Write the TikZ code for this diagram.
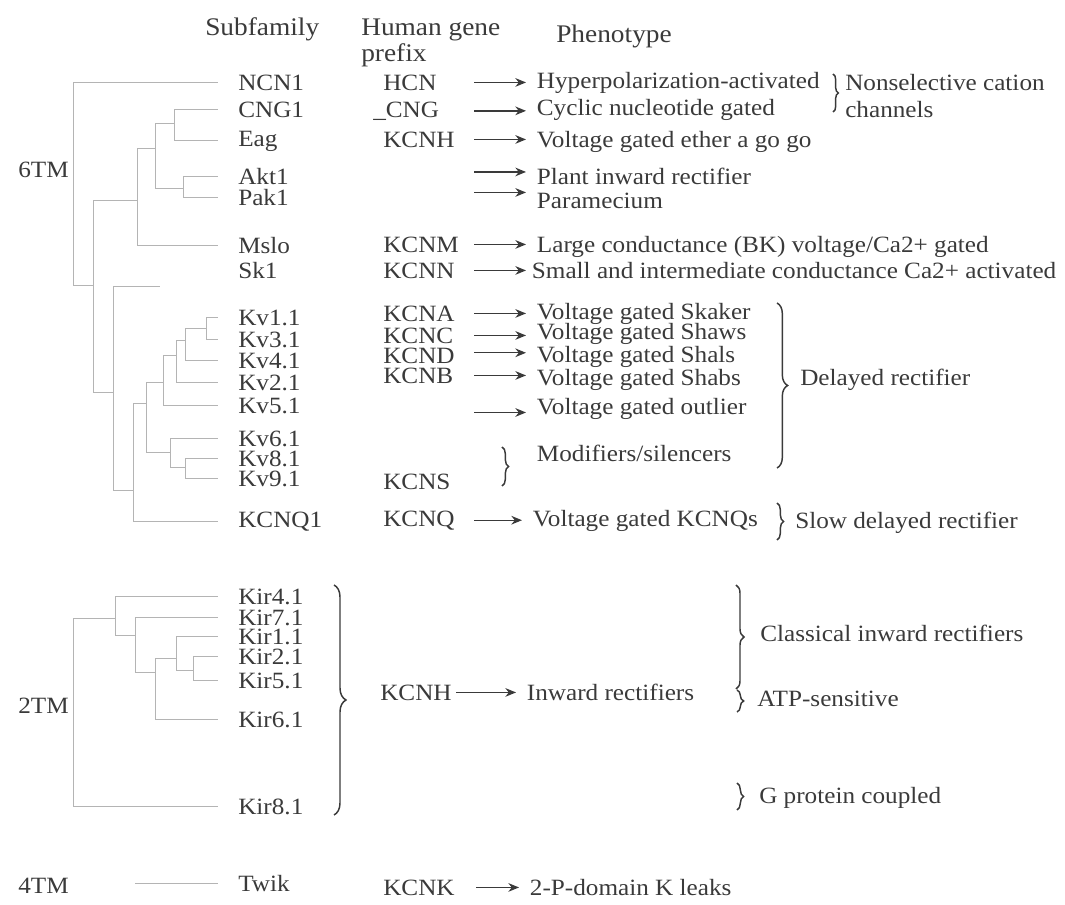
\documentclass[tikz,border=0pt]{standalone}
\usepackage{fontspec}
\setmainfont{Liberation Serif}[FakeStretch=1.08]
\usetikzlibrary{arrows.meta,decorations.pathreplacing,calc}
\definecolor{ink}{HTML}{3A3A3A}
\definecolor{treec}{HTML}{B4B4B4}
\begin{document}
\begin{tikzpicture}[x=0.75pt,y=-0.75pt,
  txt/.style={anchor=mid west,inner sep=0pt,yshift=-3pt,text=ink,font=\fontsize{17.5}{20}\selectfont},
  leaf/.style={txt,inner xsep=15pt},
  pheno/.style={txt,inner xsep=8pt},
  hdr/.style={txt,font=\fontsize{19}{22}\selectfont},
  tree/.style={draw=treec,line width=0.7pt},
  arr/.style={draw=ink,line width=1pt,-{Stealth[length=8pt,width=6.5pt]}},
  brc/.style={decorate,decoration={brace,amplitude=#1},draw=ink,line width=1.1pt},
  brc/.default=6pt]
\useasboundingbox (0,0) rectangle (1065,905);

% headers
\node[hdr] (hsub) at (205,28) {Subfamily};
\node[hdr] (hgene) at (361,28) {Human gene};
\node[hdr] (hpre) at (361,54) {prefix};
\node[hdr] (hphe) at (556,35) {Phenotype};

% group labels
\node[txt] (g6) at (18,170) {6TM};
\node[txt] (g2) at (18,706) {2TM};
\node[txt] (g4) at (18,886) {4TM};

% leaves 6TM
\node[leaf] (ncn1) at (218,83) {NCN1};
\node[leaf] (cng1) at (218,110) {CNG1};
\node[leaf] (eag) at (218,139) {Eag};
\node[leaf] (akt1) at (218,177) {Akt1};
\node[leaf] (pak1) at (218,198) {Pak1};
\node[leaf] (mslo) at (218,246) {Mslo};
\node[leaf] (sk1) at (218,271) {Sk1};
\node[leaf] (kv11) at (218,318) {Kv1.1};
\node[leaf] (kv31) at (218,340) {Kv3.1};
\node[leaf] (kv41) at (218,361) {Kv4.1};
\node[leaf] (kv21) at (218,383) {Kv2.1};
\node[leaf] (kv51) at (218,406) {Kv5.1};
\node[leaf] (kv61) at (218,439) {Kv6.1};
\node[leaf] (kv81) at (218,459) {Kv8.1};
\node[leaf] (kv91) at (218,479) {Kv9.1};
\node[leaf] (kcnq1) at (218,520) {KCNQ1};
% leaves 2TM
\node[leaf] (kir41) at (218,597) {Kir4.1};
\node[leaf] (kir71) at (218,618) {Kir7.1};
\node[leaf] (kir11) at (218,637) {Kir1.1};
\node[leaf] (kir21) at (218,657) {Kir2.1};
\node[leaf] (kir51) at (218,681) {Kir5.1};
\node[leaf] (kir61) at (218,720) {Kir6.1};
\node[leaf] (kir81) at (218,807) {Kir8.1};
% 4TM
\node[leaf] (twik) at (218,884) {Twik};

% tree 6TM
\coordinate (r6) at (73,185);
\coordinate (a) at (93,285);
\coordinate (b) at (137,200);
\coordinate (d) at (155,148);
\coordinate (e) at (174,123);
\coordinate (f) at (183,188);
\coordinate (c) at (113,392);
\coordinate (sk) at (160,286);
\coordinate (g) at (133,490);
\coordinate (h) at (146,403);
\coordinate (i) at (163,382);
\coordinate (k) at (176,355);
\coordinate (l) at (185,340);
\coordinate (m) at (206,328);
\coordinate (j) at (170,452);
\coordinate (n) at (185,467);
\draw[tree] (r6) |- (ncn1.west);
\draw[tree] (r6) |- (a);
\draw[tree] (a) |- (b);
\draw[tree] (a) |- (c);
\draw[tree] (b) |- (d);
\draw[tree] (b) |- (mslo.west);
\draw[tree] (d) |- (e);
\draw[tree] (d) |- (f);
\draw[tree] (e) |- (cng1.west);
\draw[tree] (e) |- (eag.west);
\draw[tree] (f) |- (akt1.west);
\draw[tree] (f) |- (pak1.west);
\draw[tree] (c) |- (sk);
\draw[tree] (c) |- (g);
\draw[tree] (g) |- (h);
\draw[tree] (g) |- (kcnq1.west);
\draw[tree] (h) |- (i);
\draw[tree] (h) |- (j);
\draw[tree] (i) |- (k);
\draw[tree] (i) |- (kv51.west);
\draw[tree] (k) |- (l);
\draw[tree] (k) |- (kv21.west);
\draw[tree] (l) |- (m);
\draw[tree] (l) |- (kv41.west);
\draw[tree] (m) |- (kv11.west);
\draw[tree] (m) |- (kv31.west);
\draw[tree] (j) |- (kv61.west);
\draw[tree] (j) |- (n);
\draw[tree] (n) |- (kv81.west);
\draw[tree] (n) |- (kv91.west);

% tree 2TM
\coordinate (r2) at (73,706);
\coordinate (p) at (115,618);
\coordinate (q) at (135,635);
\coordinate (s) at (155,672);
\coordinate (t) at (176,658);
\coordinate (u) at (193,670);
\draw[tree] (r2) |- (p);
\draw[tree] (r2) |- (kir81.west);
\draw[tree] (p) |- (kir41.west);
\draw[tree] (p) |- (q);
\draw[tree] (q) |- (kir71.west);
\draw[tree] (q) |- (s);
\draw[tree] (s) |- (t);
\draw[tree] (s) |- (kir61.west);
\draw[tree] (t) |- (kir11.west);
\draw[tree] (t) |- (u);
\draw[tree] (u) |- (kir21.west);
\draw[tree] (u) |- (kir51.west);

% 4TM
\coordinate (tw) at (135,884);
\draw[tree] (twik.west -| tw) -- (twik.west);

% gene prefixes
\node[txt] (hcn) at (383,83) {HCN};
\node[txt] (cng) at (373,110) {\_CNG};
\node[txt] (kcnh) at (383,140) {KCNH};
\node[txt] (kcnm) at (383,245) {KCNM};
\node[txt] (kcnn) at (383,271) {KCNN};
\node[txt] (kcna) at (383,314) {KCNA};
\node[txt] (kcnc) at (383,336) {KCNC};
\node[txt] (kcnd) at (383,356) {KCND};
\node[txt] (kcnb) at (383,376) {KCNB};
\node[txt] (kcns) at (383,482) {KCNS};
\node[txt] (kcnq) at (383,519) {KCNQ};
\node[txt] (kcnh2) at (380,693) {KCNH};
\node[txt] (kcnk) at (383,888) {KCNK};

% phenotypes
\node[pheno] (p1) at (526,81) {Hyperpolarization-activated};
\node[pheno] (p2) at (526,108) {Cyclic nucleotide gated};
\node[pheno] (p3) at (526,140) {Voltage gated ether a go go};
\node[pheno] (p4) at (526,177) {Plant inward rectifier};
\node[pheno] (p5) at (526,201) {Paramecium};
\node[pheno] (p6) at (526,245) {Large conductance (BK) voltage/Ca2+ gated};
\node[pheno] (p7) at (521,271) {Small and intermediate conductance Ca2+ activated};
\node[pheno] (p8) at (526,312) {Voltage gated Skaker};
\node[pheno] (p9) at (526,332) {Voltage gated Shaws};
\node[pheno] (p10) at (526,355) {Voltage gated Shals};
\node[pheno] (p11) at (526,378) {Voltage gated Shabs};
\node[pheno] (p12) at (526,407) {Voltage gated outlier};
\node[pheno] (p13) at (526,454) {Modifiers/silencers};
\node[pheno] (p14) at (522,519) {Voltage gated KCNQs};
\node[pheno] (p15) at (516,693) {Inward rectifiers};
\node[pheno] (p16) at (519,888) {2-P-domain K leaks};

% arrows
\coordinate (as) at (474,0);
\coordinate (as2) at (456,0);
\coordinate (as3) at (476,0);
\draw[arr] (hcn.east -| as) -- (hcn.east -| p1.west);
\draw[arr] (cng.east -| as) -- (cng.east -| p2.west);
\draw[arr] (kcnh.east -| as) -- (kcnh.east -| p3.west);
\draw[arr] ([yshift=3pt]p4.west -| as) -- ([yshift=3pt]p4.west);
\draw[arr] ([yshift=6pt]p5.west -| as) -- ([yshift=6pt]p5.west);
\draw[arr] (kcnm.east -| as) -- (kcnm.east -| p6.west);
\draw[arr] (kcnn.east -| as) -- (kcnn.east -| p1.west);
\draw[arr] (kcna.east -| as) -- (kcna.east -| p8.west);
\draw[arr] (kcnc.east -| as) -- (kcnc.east -| p9.west);
\draw[arr] ([yshift=2pt]kcnd.east -| as) -- ([yshift=2pt]kcnd.east -| p10.west);
\draw[arr] (kcnb.east -| as) -- (kcnb.east -| p11.west);
\draw[arr] ([yshift=-3pt]p12.west -| as) -- ([yshift=-3pt]p12.west);
\draw[arr] (kcnq.east -| as) -- (kcnq.east -| p14.west);
\draw[arr] (kcnh2.east -| as2) -- (kcnh2.east -| p15.west);
\draw[arr] (kcnk.east -| as3) -- (kcnk.east -| p16.west);

% braces and group annotations
\draw[brc=4pt] (833,74) -- (833,112);
\node[txt] (ns1) at (845,83) {Nonselective cation};
\node[txt] (ns2) at (845,110) {channels};
\draw[brc=8pt] (777,303) -- (777,468);
\node[txt] (dr) at (800,378) {Delayed rectifier};
\draw[brc=5pt] (777,503) -- (777,540);
\node[txt] (sdr) at (795,521) {Slow delayed rectifier};
\draw[brc=5pt] (502,447) -- (502,486);
\draw[brc=9pt] (334,585) -- (334,815);
\draw[brc=6pt] (736,585) -- (736,689);
\node[txt] (cir) at (760,634) {Classical inward rectifiers};
\draw[brc=5pt] (737,690) -- (737,712);
\node[txt] (atp) at (757,699) {ATP-sensitive};
\draw[brc=5pt] (737,783) -- (737,810);
\node[txt] (gpc) at (759,796) {G protein coupled};
\end{tikzpicture}
\end{document}
